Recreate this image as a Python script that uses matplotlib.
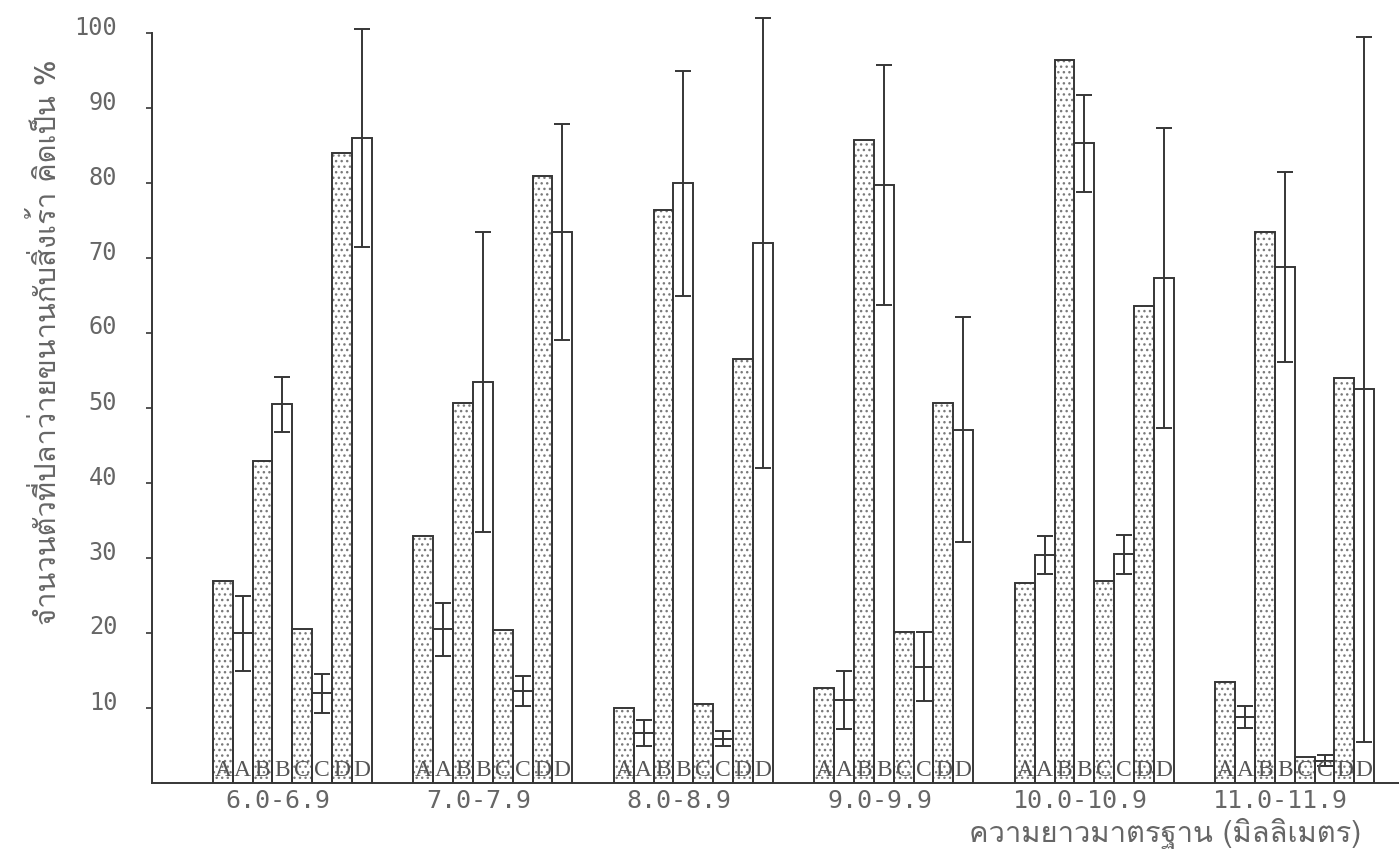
import matplotlib
matplotlib.use('Agg')
import matplotlib.pyplot as plt
import numpy as np
from matplotlib import font_manager
from matplotlib.ft2font import FT2Font
from matplotlib.transforms import ScaledTranslation

# ---------------- data ----------------
groups = ['6.0-6.9', '7.0-7.9', '8.0-8.9', '9.0-9.9', '10.0-10.9', '11.0-11.9']
bar_letters = ['A', 'A', 'B', 'B', 'C', 'C', 'D', 'D']

a_dot = [27, 33, 10, 12.7, 26.7, 13.5]
a_mean = [20, 20.5, 6.7, 11.1, 30.4, 8.8]
a_err = [5, 3.5, 1.7, 3.9, 2.5, 1.5]

b_dot = [43, 50.7, 76.4, 85.7, 96.4, 73.5]
b_mean = [50.5, 53.5, 80, 79.7, 85.3, 68.8]
b_err = [3.7, 20, 15, 16, 6.5, 12.7]

c_dot = [20.5, 20.4, 10.5, 20.1, 26.9, 3.5]
c_mean = [12, 12.3, 5.9, 15.5, 30.5, 3]
c_err = [2.6, 2, 1, 4.6, 2.6, 0.7]

d_dot = [84, 81, 56.5, 50.7, 63.6, 54]
d_mean = [86, 73.5, 72, 47.1, 67.3, 52.5]
d_err = [14.5, 14.4, 30, 15, 20, 47]

y_ticks = [10, 20, 30, 40, 50, 60, 70, 80, 90, 100]
y_label = 'จำนวนตัวที่ปลาว่ายขนานกับสิ่งเร้า คิดเป็น %'
x_label = 'ความยาวมาตรฐาน (มิลลิเมตร)'


def thai_font_names():
    names = []
    for f in font_manager.fontManager.ttflist:
        if f.name in names:
            continue
        try:
            cm = FT2Font(f.fname).get_charmap()
        except Exception:
            continue
        if 0x0E01 in cm and 0x0E32 in cm and 0x0E48 in cm:
            names.append(f.name)
    return names


avail = thai_font_names()
pick = [n for n in ['Loma', 'Noto Sans Thai Looped', 'IBM Plex Sans Thai Looped'] if n in avail]
thai_family = (pick[:1] or avail[:1]) + ['DejaVu Sans']

INK = '#363636'
TXT = '#666666'

fig = plt.figure(figsize=(13.99, 8.59), dpi=100)
ax = fig.add_axes([152 / 1399, 76 / 859, 1 - 152 / 1399, 783 / 859])

x = np.arange(len(groups))
w = 0.099
dots = [a_dot, b_dot, c_dot, d_dot]
means = [a_mean, b_mean, c_mean, d_mean]
errs = [a_err, b_err, c_err, d_err]

for k in range(4):
    xd = x + (2 * k - 3.5) * w
    xm = x + (2 * k + 1 - 3.5) * w
    # dotted bar
    ax.bar(xd, dots[k], width=w, color='white', hatch='...', edgecolor='#7a7a7a',
           linewidth=0, zorder=2)
    ax.bar(xd, dots[k], width=w, fill=False, edgecolor=INK, linewidth=1.4, zorder=3)
    # open bar with error
    ax.bar(xm, means[k], width=w, fill=False, edgecolor=INK, linewidth=1.4, zorder=3)
    ax.errorbar(xm, means[k], yerr=errs[k], fmt='none', ecolor=INK, elinewidth=1.4,
                capsize=6, capthick=1.4, zorder=4)

# letters at the bottom of each bar
for g in range(len(groups)):
    for i, lab in enumerate(bar_letters):
        ax.text(x[g] + (i - 3.5) * w, 0.3, lab, ha='center', va='bottom',
                fontsize=17, family='Liberation Serif', color='#555555', zorder=5)

ax.set_xlim(-0.7, 5.52)
ax.set_ylim(0, 104.4)
for s in ['top', 'right']:
    ax.spines[s].set_visible(False)
ax.spines['left'].set_bounds(0, 100)
for s in ['left', 'bottom']:
    ax.spines[s].set_color(INK)
    ax.spines[s].set_linewidth(1.4)

ax.set_yticks(y_ticks)
ax.set_yticklabels([str(v) for v in y_ticks])
ax.tick_params(axis='y', direction='out', length=4, width=1.2, color=INK, pad=21,
               labelsize=17, labelcolor=TXT)
for lab in ax.get_yticklabels():
    lab.set_family('DejaVu Sans Mono')
    lab.set_transform(lab.get_transform() + ScaledTranslation(0, 0.08, fig.dpi_scale_trans))

ax.set_xticks(x - 0.07)
ax.set_xticklabels(groups)
ax.tick_params(axis='x', length=0, pad=4, labelsize=18, labelcolor=TXT)
for lab in ax.get_xticklabels():
    lab.set_family('DejaVu Sans Mono')

fig.text(46 / 1399, 1 - 342 / 859, y_label, rotation=90, ha='center', va='center',
         fontsize=21, color=TXT, family=thai_family)
fig.text(1165 / 1399, 1 - 833 / 859, x_label, ha='center', va='center',
         fontsize=21, color=TXT, family=thai_family)

fig.savefig('out.png', dpi=100)
